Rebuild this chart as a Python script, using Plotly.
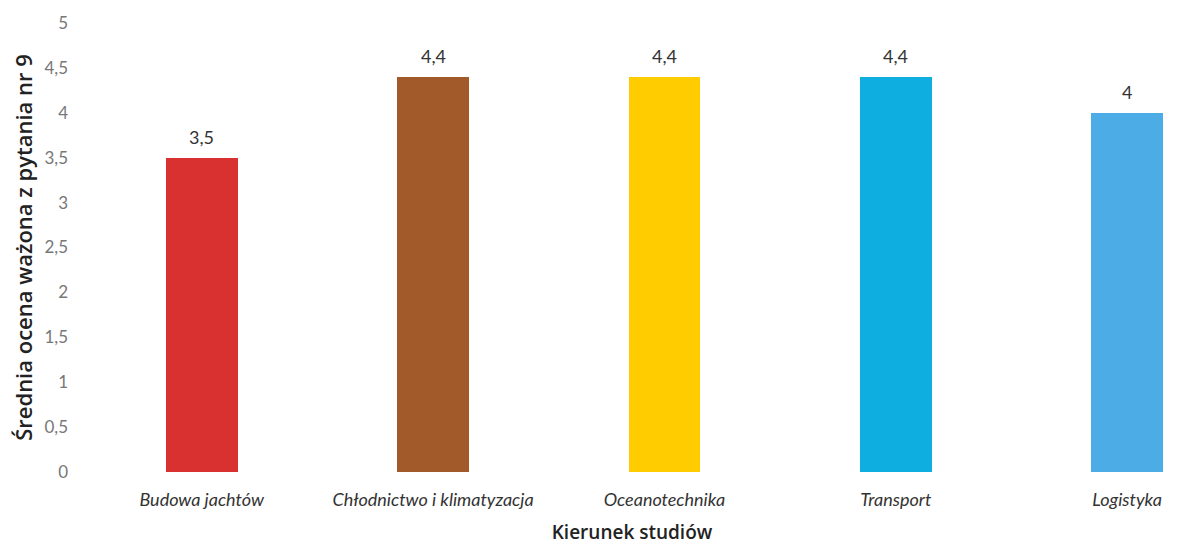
import plotly.graph_objects as go

kierunki = ['Budowa jachtów', 'Chłodnictwo i klimatyzacja', 'Oceanotechnika', 'Transport', 'Logistyka']
oceny = [3.5, 4.4, 4.4, 4.4, 4.0]
kolory = ['#d8312f', '#a35a2b', '#ffcc00', '#0eaee0', '#4cade6']

etykiety = [('%g' % v).replace('.', ',') for v in oceny]

fig = go.Figure(
    go.Bar(
        x=kierunki,
        y=oceny,
        marker=dict(color=kolory, line=dict(width=0)),
        width=0.31,
        hoverinfo='x+y',
    )
)

# value labels above the bars
for k, v, t in zip(kierunki, oceny, etykiety):
    fig.add_annotation(
        x=k, y=v, text=t,
        showarrow=False,
        yshift=21,
        font=dict(family='Lato', size=18, color='#333333'),
    )

fig.update_xaxes(
    range=[-0.5, 4.22],
    automargin=False,
    showgrid=False,
    showline=False,
    ticks='',
    ticklabelstandoff=15,
    tickfont=dict(family='Lato', size=18, color='#333333', style='italic'),
    title=dict(text='Kierunek studiów', font=dict(family='Open Sans', size=19, color='#222222', weight=600), standoff=37),
)

fig.update_yaxes(
    range=[0, 5],
    dtick=0.5,
    automargin=False,
    showgrid=False,
    showline=False,
    zeroline=False,
    ticks='',
    tickfont=dict(family='Lato', size=17, color='#777777'),
    ticklabelstandoff=17,
    title=dict(text='Średnia ocena ważona z pytania nr 9', font=dict(family='Open Sans', size=22, color='#222222', weight=600), standoff=25),
)

# page body has an 8px margin, so the figure is a bit smaller than the window
fig.update_layout(
    width=1170,
    height=537,
    separators=', ',
    plot_bgcolor='white',
    paper_bgcolor='white',
    showlegend=False,
    margin=dict(l=78, r=0, t=15, b=73),
    bargap=0,
)

fig.write_html('out.html')
